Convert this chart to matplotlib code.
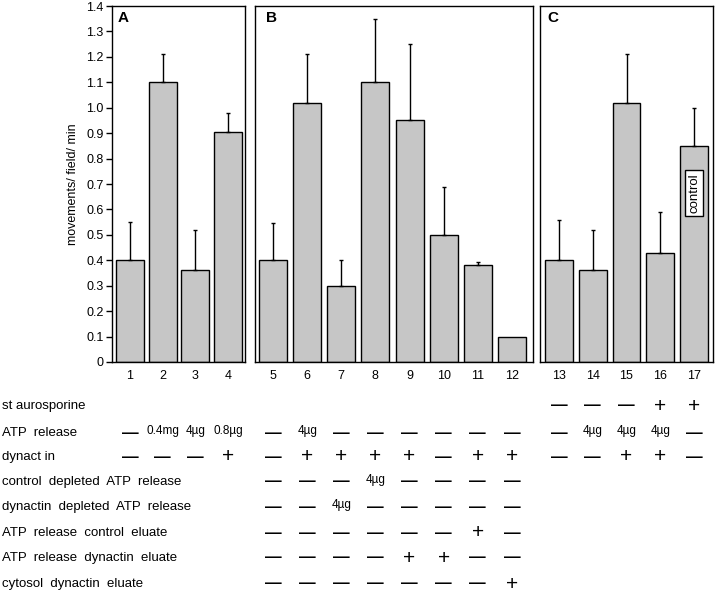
import matplotlib.pyplot as plt
from matplotlib.transforms import blended_transform_factory

plt.rcParams['font.family'] = ['Liberation Sans', 'DejaVu Sans']

# --- Daten ---
lanes_a = [1, 2, 3, 4]
lanes_b = [5, 6, 7, 8, 9, 10, 11, 12]
lanes_c = [13, 14, 15, 16, 17]

values_a = [0.40, 1.10, 0.36, 0.905]
values_b = [0.40, 1.02, 0.30, 1.10, 0.95, 0.50, 0.38, 0.10]
values_c = [0.40, 0.36, 1.02, 0.43, 0.85]

errors_a = [0.15, 0.11, 0.16, 0.075]
errors_b = [0.145, 0.19, 0.10, 0.25, 0.30, 0.19, 0.012, 0.0]
errors_c = [0.16, 0.16, 0.19, 0.16, 0.15]

row_labels = ['st aurosporine', 'ATP  release', 'dynact in',
              'control  depleted  ATP  release',
              'dynactin  depleted  ATP  release',
              'ATP  release  control  eluate',
              'ATP  release  dynactin  eluate',
              'cytosol  dynactin  eluate']

# Tabelle: pro Zeile die Einträge je Spur (None = leer)
N = None
table_rows = [
    [N, N, N, N, N, N, N, N, N, N, N, N, '-', '-', '-', '+', '+'],
    ['-', '0.4mg', '4µg', '0.8µg', '-', '4µg', '-', '-', '-', '-', '-', '-',
     '-', '4µg', '4µg', '4µg', '-'],
    ['-', '-', '-', '+', '-', '+', '+', '+', '+', '-', '+', '+',
     '-', '-', '+', '+', '-'],
    [N, N, N, N, '-', '-', '-', '4µg', '-', '-', '-', '-', N, N, N, N, N],
    [N, N, N, N, '-', '-', '4µg', '-', '-', '-', '-', '-', N, N, N, N, N],
    [N, N, N, N, '-', '-', '-', '-', '-', '-', '+', '-', N, N, N, N, N],
    [N, N, N, N, '-', '-', '-', '-', '+', '+', '-', '-', N, N, N, N, N],
    [N, N, N, N, '-', '-', '-', '-', '-', '-', '-', '+', N, N, N, N, N],
]
row_y = [406, 433, 457, 482, 507, 533, 558, 584]  # Pixel von oben

W, H = 720, 600
fig = plt.figure(figsize=(W / 100, H / 100), dpi=100)

def px_axes(x0, x1, y_top, y_bot):
    return fig.add_axes([x0 / W, 1 - y_bot / H, (x1 - x0) / W, (y_bot - y_top) / H])

ax_a = px_axes(112, 245, 6, 362)
ax_b = px_axes(255, 533, 6, 362)
ax_c = px_axes(540, 713, 6, 362)

panels = [
    (ax_a, lanes_a, values_a, errors_a, 'A', (0.45, 4.52), 0.85),
    (ax_b, lanes_b, values_b, errors_b, 'B', (4.47, 12.62), 0.82),
    (ax_c, lanes_c, values_c, errors_c, 'C', (12.44, 17.56), 0.82),
]

for ax, lanes, vals, errs, letter, xlim, bw in panels:
    ax.bar(lanes, vals, width=bw, color='#c6c6c6', edgecolor='black', linewidth=1.0, zorder=2)
    for x, v, e in zip(lanes, vals, errs):
        if e > 0:
            ax.errorbar(x, v, yerr=[[0], [e]], fmt='none', ecolor='black',
                        elinewidth=1.0, capsize=1.5, capthick=1.0, zorder=3)
    ax.set_xlim(*xlim)
    ax.set_ylim(0, 1.4)
    ax.set_xticks(lanes)
    ax.set_xticklabels([str(l) for l in lanes], fontsize=9)
    ax.tick_params(axis='x', length=0, pad=6)
    for s in ax.spines.values():
        s.set_linewidth(1.0)
    ax.text(0.04, 0.985, letter, transform=ax.transAxes, fontsize=11,
            fontweight='bold', va='top', ha='left')
    if ax is ax_a:
        ticks = [i / 10 for i in range(15)]
        ax.set_yticks(ticks)
        ax.set_yticklabels(['0'] + [f'{t:.1f}' for t in ticks[1:]], fontsize=9)
        ax.tick_params(axis='y', direction='out', length=4, width=1.0, pad=2)
        ax.set_ylabel('movements/ field/ min', fontsize=9, labelpad=5)
    else:
        ax.set_yticks([])

# "control"-Kasten im Balken 17
ax_c.text(17, 0.665, 'control', rotation=90, ha='center', va='center', fontsize=9.5,
          bbox=dict(boxstyle='square,pad=0.25', facecolor='white', edgecolor='black', linewidth=1.0),
          zorder=4)

# --- Tabelle unter dem Diagramm ---
all_lanes = lanes_a + lanes_b + lanes_c
for label, y, entries in zip(row_labels, row_y, table_rows):
    fig.text(2 / W, 1 - y / H, label, fontsize=9.5, va='center', ha='left')
    for lane, entry in zip(all_lanes, entries):
        if entry is None:
            continue
        ax = ax_a if lane <= 4 else (ax_b if lane <= 12 else ax_c)
        tr = blended_transform_factory(ax.transData, fig.transFigure)
        yy = 1 - y / H
        if entry == '-':
            ax.text(lane, yy, '—', transform=tr, ha='center', va='center',
                    fontsize=12, fontweight='bold', clip_on=False)
        elif entry == '+':
            ax.text(lane, yy, '+', transform=tr, ha='center', va='center',
                    fontsize=15, clip_on=False)
        else:
            ax.text(lane, yy + 0.004, entry, transform=tr, ha='center', va='center',
                    fontsize=8.5, clip_on=False)

fig.savefig('out.png', dpi=100)
